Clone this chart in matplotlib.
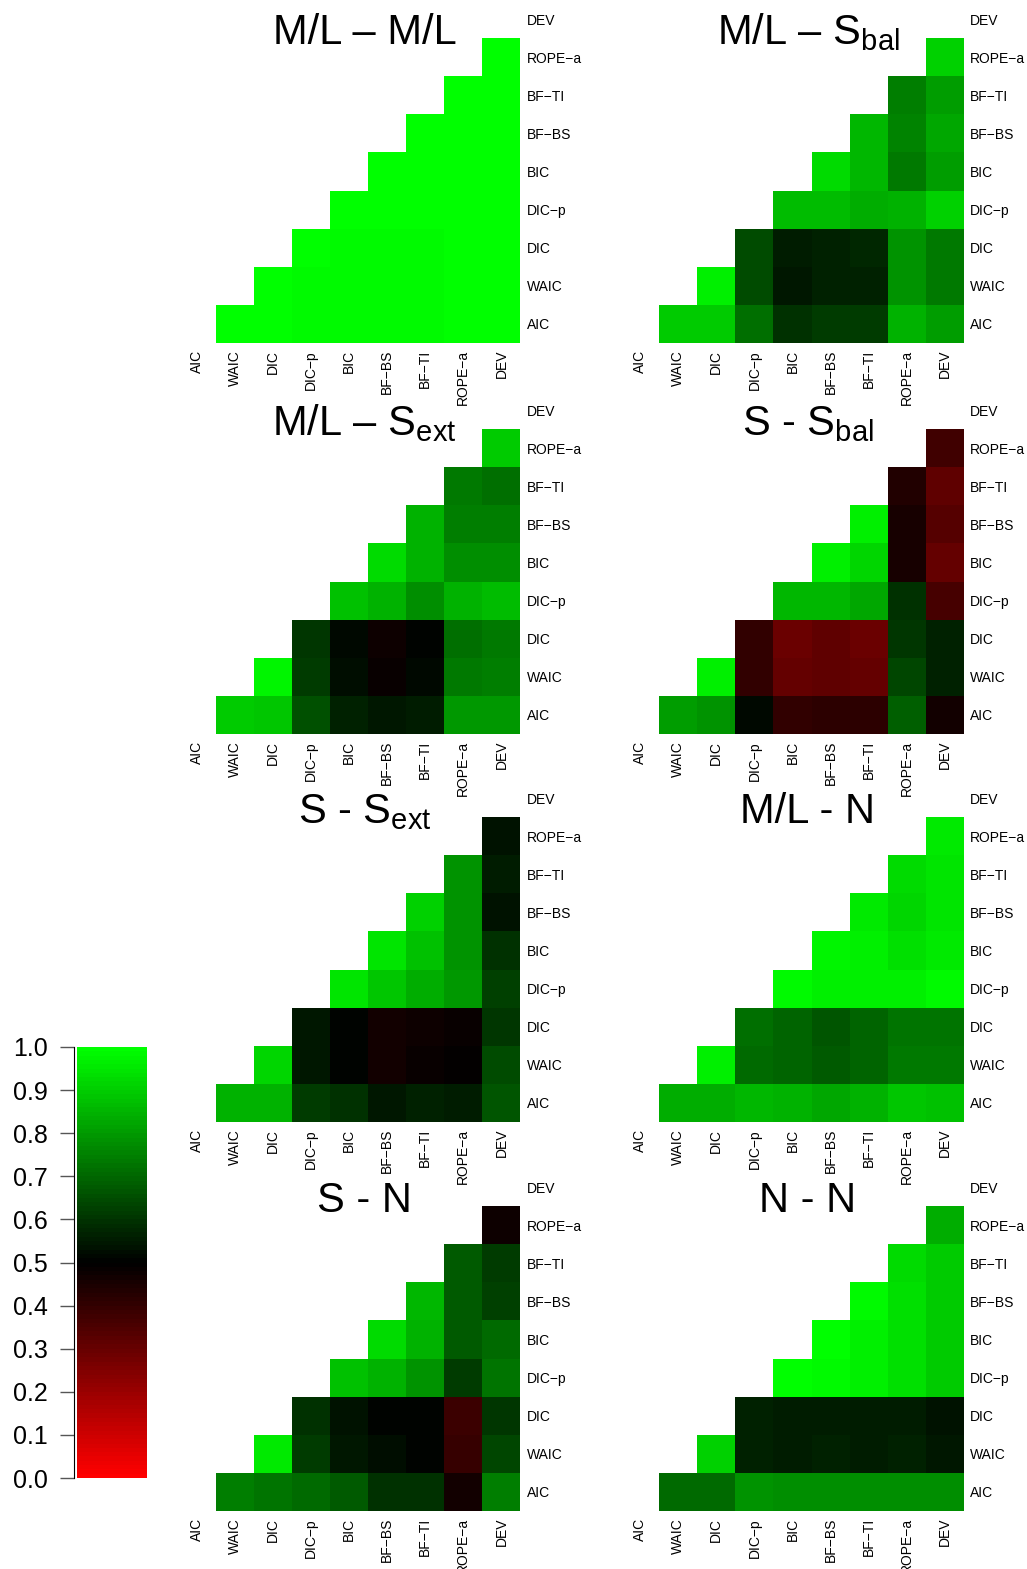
import numpy as np
import matplotlib
matplotlib.use("Agg")
import matplotlib.pyplot as plt
from matplotlib.colors import LinearSegmentedColormap

plt.rcParams['font.family'] = ['Liberation Sans', 'DejaVu Sans']
plt.rcParams['mathtext.fontset'] = 'custom'
plt.rcParams['mathtext.rm'] = 'Liberation Sans'
plt.rcParams['mathtext.it'] = 'Liberation Sans:italic'

# 指标名称（从下到上 / 从左到右）
labels = ['AIC', 'WAIC', 'DIC', 'DIC\u2212p', 'BIC', 'BF\u2212BS', 'BF\u2212TI', 'ROPE\u2212a', 'DEV']

# 每个面板：第 r 行给出列 r+1..8 的一致率
ml_ml = [
    [1.0, 1.0, 0.985, 0.98, 0.98, 0.985, 0.99, 1.0],
    [1.0, 0.985, 0.98, 0.98, 0.985, 0.99, 1.0],
    [1.0, 0.98, 0.98, 0.985, 0.99, 1.0],
    [1.0, 0.99, 0.99, 0.99, 1.0],
    [1.0, 0.99, 0.99, 1.0],
    [1.0, 0.99, 1.0],
    [1.0, 0.99],
    [1.0],
]
ml_sbal = [
    [0.89, 0.89, 0.715, 0.59, 0.61, 0.61, 0.84, 0.80],
    [0.96, 0.64, 0.54, 0.56, 0.56, 0.785, 0.735],
    [0.64, 0.55, 0.57, 0.575, 0.785, 0.73],
    [0.86, 0.86, 0.835, 0.84, 0.90],
    [0.92, 0.855, 0.735, 0.80],
    [0.855, 0.755, 0.82],
    [0.74, 0.80],
    [0.90],
]
ml_sext = [
    [0.89, 0.88, 0.65, 0.56, 0.54, 0.55, 0.79, 0.79],
    [0.97, 0.61, 0.52, 0.485, 0.51, 0.735, 0.745],
    [0.60, 0.515, 0.477, 0.505, 0.715, 0.735],
    [0.87, 0.845, 0.775, 0.845, 0.86],
    [0.92, 0.845, 0.775, 0.775],
    [0.845, 0.745, 0.745],
    [0.735, 0.715],
    [0.89],
]
s_sbal = [
    [0.80, 0.785, 0.515, 0.40, 0.41, 0.41, 0.685, 0.46],
    [0.96, 0.40, 0.305, 0.315, 0.305, 0.63, 0.56],
    [0.40, 0.295, 0.315, 0.295, 0.60, 0.56],
    [0.855, 0.855, 0.825, 0.59, 0.365],
    [0.96, 0.91, 0.45, 0.305],
    [0.96, 0.45, 0.335],
    [0.43, 0.315],
    [0.37],
]
s_sext = [
    [0.845, 0.845, 0.61, 0.59, 0.54, 0.56, 0.555, 0.665],
    [0.91, 0.54, 0.50, 0.465, 0.485, 0.495, 0.64],
    [0.54, 0.50, 0.465, 0.475, 0.48, 0.60],
    [0.94, 0.88, 0.835, 0.795, 0.62],
    [0.94, 0.87, 0.785, 0.59],
    [0.90, 0.785, 0.535],
    [0.785, 0.55],
    [0.53],
]
ml_n = [
    [0.835, 0.835, 0.855, 0.845, 0.825, 0.845, 0.88, 0.87],
    [0.96, 0.705, 0.695, 0.675, 0.695, 0.735, 0.73],
    [0.715, 0.69, 0.665, 0.695, 0.725, 0.725],
    [0.98, 0.96, 0.96, 0.96, 0.98],
    [0.97, 0.96, 0.93, 0.95],
    [0.95, 0.91, 0.94],
    [0.92, 0.94],
    [0.955],
]
s_n = [
    [0.745, 0.725, 0.705, 0.675, 0.59, 0.59, 0.46, 0.745],
    [0.95, 0.61, 0.54, 0.52, 0.505, 0.39, 0.63],
    [0.59, 0.53, 0.50, 0.50, 0.38, 0.60],
    [0.87, 0.845, 0.785, 0.61, 0.725],
    [0.92, 0.845, 0.675, 0.705],
    [0.855, 0.675, 0.62],
    [0.675, 0.61],
    [0.475],
]
n_n = [
    [0.705, 0.705, 0.785, 0.775, 0.775, 0.775, 0.775, 0.775],
    [0.90, 0.56, 0.555, 0.56, 0.555, 0.56, 0.54],
    [0.56, 0.55, 0.55, 0.55, 0.55, 0.535],
    [1.0, 0.98, 0.96, 0.93, 0.89],
    [0.99, 0.96, 0.93, 0.89],
    [0.98, 0.93, 0.89],
    [0.92, 0.89],
    [0.835],
]

titles = [
    'M/L \u2013 M/L', 'M/L \u2013 $\\mathrm{S}_{\\mathrm{bal}}$',
    'M/L \u2013 $\\mathrm{S}_{\\mathrm{ext}}$', 'S - $\\mathrm{S}_{\\mathrm{bal}}$',
    'S - $\\mathrm{S}_{\\mathrm{ext}}$', 'M/L - N',
    'S - N', 'N - N',
]
panels = [ml_ml, ml_sbal, ml_sext, s_sbal, s_sext, ml_n, s_n, n_n]

cbar_ticks = [0.0, 0.1, 0.2, 0.3, 0.4, 0.5, 0.6, 0.7, 0.8, 0.9, 1.0]

# 红-黑-绿 配色
cmap = LinearSegmentedColormap.from_list('rkg', ['#FF0000', '#000000', '#00FF00'], N=100)

W, H = 1027, 1569
fig = plt.figure(figsize=(W / 100, H / 100), dpi=100)


def px_axes(x, y, w, h):
    a = fig.add_axes([x / W, (H - y - h) / H, w / W, h / H])
    a.patch.set_visible(False)  # 透明背景，避免遮住上方面板的刻度文字
    return a


def to_matrix(rows):
    n = len(labels)
    m = np.full((n, n), np.nan)
    for r, vals in enumerate(rows):
        for k, v in enumerate(vals):
            m[r, r + 1 + k] = v
    return np.ma.masked_invalid(m)


col_x = [177.5, 621]
row_y = [0, 391, 779, 1168]
size = 343

for i, (rows, title) in enumerate(zip(panels, titles)):
    ax = px_axes(col_x[i % 2], row_y[i // 2], size, size)
    n = len(labels)
    ax.pcolormesh(np.arange(n + 1), np.arange(n + 1), to_matrix(rows),
                  cmap=cmap, vmin=0, vmax=1, antialiased=False, linewidth=0)
    ax.set_xlim(0, n)
    ax.set_ylim(0, n)
    for s in ax.spines.values():
        s.set_visible(False)
    ax.set_xticks(np.arange(n) + 0.5)
    ax.set_xticklabels(labels, rotation=90, fontsize=10)
    ax.set_yticks(np.arange(n) + 0.5)
    ax.set_yticklabels(labels, fontsize=10)
    ax.yaxis.tick_right()
    ax.tick_params(axis='both', length=0)
    ax.tick_params(axis='x', pad=5)
    ax.tick_params(axis='y', pad=4.5)
    ax.text(0.545, 0.872, title, transform=ax.transAxes, ha='center',
            va='baseline', fontsize=30)

# 图例色条
cax = px_axes(77, 1047, 70, 431)
grad = np.linspace(0, 1, 100)[:, None]
cax.imshow(grad, extent=[0, 1, 0, 1], origin='lower', aspect='auto',
           cmap=cmap, vmin=0, vmax=1, interpolation='nearest')
cax.set_xlim(0, 1)
cax.set_ylim(0, 1)
cax.set_xticks([])
for k in ['top', 'right', 'bottom']:
    cax.spines[k].set_visible(False)
cax.spines['left'].set_position(('outward', 2))
cax.set_yticks(cbar_ticks)
cax.set_yticklabels(['%.1f' % t for t in cbar_ticks], fontsize=18)
cax.tick_params(axis='y', length=10, width=1, color='#555555', pad=9)

fig.savefig('out.png', dpi=100, facecolor='white')
